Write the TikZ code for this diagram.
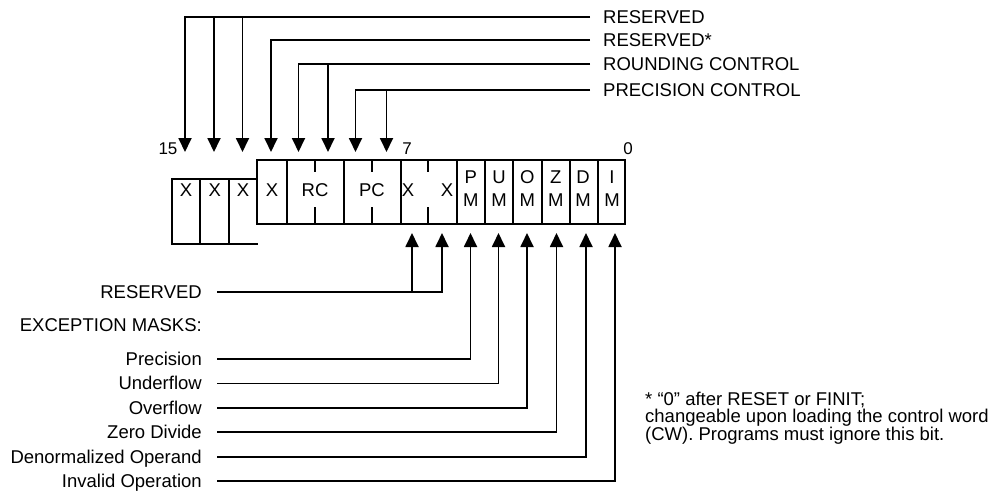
\documentclass[tikz,border=0pt]{standalone}
\usepackage{fontspec}
\setmainfont{Liberation Sans}
\usetikzlibrary{arrows.meta,positioning}

\begin{document}
\begin{tikzpicture}[x=1pt, y=-1pt,
    reg/.style={draw=black, line width=1.8pt},
    lbl/.style={inner sep=0pt, text height=13pt, text depth=0pt, font=\fontsize{18.5}{20}\selectfont},
    bitno/.style={inner sep=0pt, font=\fontsize{17}{19}\selectfont},
    field/.style={inner sep=0pt, font=\fontsize{18.5}{23}\selectfont},
    mask/.style={field, align=center, text depth=0pt, anchor=south},
    arrow/.style={line width=1.8pt, -{Triangle[width=13pt,length=14pt]}},
    feed/.style={line width=1.8pt}
]
\useasboundingbox (0,0) rectangle (1003,491);

% register outline
\draw[reg] (256.7,160) rectangle (625,224);
\draw[reg] (256.7,179) -- (171.7,179) -- (171.7,244) -- (258,244);
\foreach \x in {200,229.3} \draw[reg] (\x,179) -- (\x,244);
\foreach \x in {286.7,344,400.7,456.7,485,513,541.7,570,598} \draw[reg] (\x,160) -- (\x,224);
\foreach \x in {315,372,428} {
  \draw[reg] (\x,160) -- (\x,172);
  \draw[reg] (\x,207) -- (\x,224);
}

\node[field] (b15) at (186,190) {X};
\node[field] (b14) at (214.7,190) {X};
\node[field] (b13) at (243,190) {X};
\node[field] (b12) at (272,190) {X};
\node[field] (rc) at (315,190) {RC};
\node[field] (pc) at (372,190) {PC};
\node[field] (b7) at (408,190) {X};
\node[field] (b6) at (447,190) {X};
\node[mask] (pm) at (470.8,207) {P\\M};
\node[mask] (um) at (499,207) {U\\M};
\node[mask] (om) at (527.3,207) {O\\M};
\node[mask] (zm) at (555.8,207) {Z\\M};
\node[mask] (dm) at (583,207) {D\\M};
\node[mask] (im) at (612,207) {I\\M};

\node[bitno] (n15) at (168,149) {15};
\node[bitno] (n7) at (407,149) {7};
\node[bitno] (n0) at (628,149) {0};

% arrow ends
\foreach \n/\x in {15/185,14/214,13/242.5,12/271,11/298.5,10/328,9/355.5,8/386.5}
  \coordinate (d\n) at (\x,152);
\foreach \n/\x in {7/412,6/442,5/470.5,4/498.5,3/527,2/556.5,1/586,0/615}
  \coordinate (u\n) at (\x,233);

\node[lbl, anchor=west] (lres) at (603,17.3) {RESERVED};
\node[lbl, anchor=west] (lresx) at (603,40) {RESERVED*};
\node[lbl, anchor=west] (lrnd) at (603,64.3) {ROUNDING CONTROL};
\node[lbl, anchor=west] (lprc) at (603,90) {PRECISION CONTROL};

\node[lbl, anchor=east] (lbres) at (202,292) {RESERVED};
\node[lbl, anchor=east] (lexc) at (202,325) {EXCEPTION MASKS:};
\node[lbl, anchor=east] (lpm) at (202,359) {Precision};
\node[lbl, below=11pt of lpm.south east, anchor=north east] (lum) {Underflow};
\node[lbl, below=11pt of lum.south east, anchor=north east] (lom) {Overflow};
\node[lbl, below=11pt of lom.south east, anchor=north east] (lzm) {Zero Divide};
\node[lbl, below=11pt of lzm.south east, anchor=north east] (ldm) {Denormalized Operand};
\node[lbl, below=11pt of ldm.south east, anchor=north east] (lim) {Invalid Operation};

\node[inner sep=0pt, anchor=north west, align=left, font=\fontsize{18.5}{14}\selectfont] (note) at (645,392)
  {* ``0'' after RESET or FINIT;\\changeable upon loading the control word\\(CW). Programs must ignore this bit.};

\draw[arrow] ([xshift=-13pt]lres.west) -| (d15);
\draw[arrow] (d14 |- lres.west) -- (d14);
\draw[arrow] (d13 |- lres.west) -- (d13);
\draw[arrow] ([xshift=-13pt]lresx.west) -| (d12);
\draw[arrow] ([xshift=-13pt]lrnd.west) -| (d11);
\draw[arrow] (d10 |- lrnd.west) -- (d10);
\draw[arrow] ([xshift=-13pt]lprc.west) -| (d9);
\draw[arrow] (d8 |- lprc.west) -- (d8);

\draw[arrow] ([xshift=15pt]lbres.east) -| (u6);
\draw[arrow] (u7 |- lbres.east) -- (u7);
\draw[arrow] ([xshift=15pt]lpm.east) -| (u5);
\draw[arrow] ([xshift=15pt]lum.east) -| (u4);
\draw[arrow] ([xshift=15pt]lom.east) -| (u3);
\draw[arrow] ([xshift=15pt]lzm.east) -| (u2);
\draw[arrow] ([xshift=15pt]ldm.east) -| (u1);
\draw[arrow] ([xshift=15pt]lim.east) -| (u0);
\end{tikzpicture}
\end{document}
